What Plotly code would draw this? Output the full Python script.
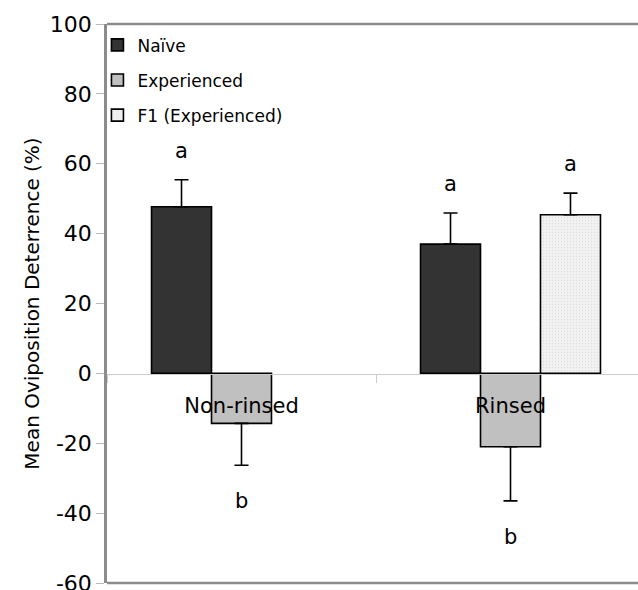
import plotly.graph_objects as go

categories = ["Non-rinsed", "Rinsed"]
naive = [47.7, 37.0]
naive_err = [7.7, 8.9]
experienced = [-14.3, -21.0]
experienced_err = [12.0, 15.5]
f1 = [None, 45.4]
f1_err = [0, 6.2]
naive_letters = ["a", "a"]
experienced_letters = ["b", "b"]
f1_letters = [None, "a"]
y_ticks = [-60, -40, -20, 0, 20, 40, 60, 80, 100]
y_tick_labels = ["-60", "-40", "-20", "0", "20", "40", "60", "80", "100"]

FONT = "DejaVu Sans, Arial, sans-serif"


def up_down(vals, errs):
    plus = [e if (v is not None and v >= 0) else 0 for v, e in zip(vals, errs)]
    minus = [e if (v is not None and v < 0) else 0 for v, e in zip(vals, errs)]
    return plus, minus


fig = go.Figure()
series = [
    ("Naïve", naive, naive_err, "#333333", None),
    ("Experienced", experienced, experienced_err, "#c0c0c0", None),
    ("F1 (Experienced)", f1, f1_err, "#f0f0f0", dict(shape=".", fgcolor="#c8c8c8", bgcolor="#f2f2f2", size=3, solidity=0.15)),
]
for i, (name, vals, errs, col, pat) in enumerate(series):
    plus, minus = up_down(vals, errs)
    marker = dict(color=col, line=dict(color="black", width=1.6))
    if pat:
        marker["pattern"] = pat
    fig.add_trace(go.Bar(
        x=categories, y=vals, name=name, legendgroup=name,
        marker=marker,
        error_y=dict(type="data", symmetric=False, array=plus, arrayminus=minus,
                     color="black", thickness=1.6, width=7),
    ))

bar_w = (1 - 0.331) / 3
letters_sets = [(naive, naive_err, naive_letters), (experienced, experienced_err, experienced_letters),
                (f1, f1_err, f1_letters)]
for si, (vals, errs, lets) in enumerate(letters_sets):
    for ci, (v, e, l) in enumerate(zip(vals, errs, lets)):
        if l is None or v is None:
            continue
        tip = v + e if v >= 0 else v - e
        fig.add_annotation(x=ci + (si - 1) * bar_w, y=tip, text=l, showarrow=False,
                           xref="x", yref="y", yanchor="middle",
                           yshift=29 if v >= 0 else -36,
                           font=dict(size=21, color="black", family=FONT))

# frame lines (top and bottom)
for yy in (0, 1):
    fig.add_shape(type="line", xref="paper", yref="paper", x0=0, x1=1, y0=yy, y1=yy,
                  line=dict(color="#8c8c8c", width=2.5))

fig.update_layout(
    width=638, height=590,
    margin=dict(l=107, r=0, t=24, b=7),
    paper_bgcolor="white", plot_bgcolor="white",
    barmode="group", bargap=0.331, bargroupgap=0,
    font=dict(family=FONT, color="black"),
    showlegend=True,
    legend=dict(x=-0.018, y=0.994, xanchor="left", yanchor="top",
                font=dict(size=17, family=FONT, color="black"),
                traceorder="grouped", tracegroupgap=10,
                bgcolor="rgba(0,0,0,0)", itemwidth=30),
    xaxis=dict(type="category", range=[-0.5, 1.474], anchor="free", position=0.3739,
               automargin=False,
               showline=True, linecolor="#cccccc", linewidth=1.2,
               ticks="outside", tickson="boundaries", ticklen=8, tickcolor="#cccccc",
               tickfont=dict(size=21, family=FONT, color="black"),
               ticklabelstandoff=13,
               showgrid=False, zeroline=False),
    yaxis=dict(range=[-60, 100], tickvals=y_ticks, ticktext=y_tick_labels,
               automargin=False,
               showgrid=False, zeroline=False,
               showline=True, linecolor="#8c8c8c", linewidth=2.5,
               ticks="outside", ticklen=8, tickcolor="#bbbbbb", tickwidth=1,
               ticklabelstandoff=0, ticklabeloverflow="allow",
               tickfont=dict(size=22, family=FONT, color="black"),
               title=dict(text="Mean Oviposition Deterrence (%)", standoff=5,
                          font=dict(size=20, family=FONT, color="black"))),
)

fig.write_html(
    "out.html",
    config={"displayModeBar": False},
    post_script="document.body.style.margin='0';document.body.style.overflow='hidden';",
)
